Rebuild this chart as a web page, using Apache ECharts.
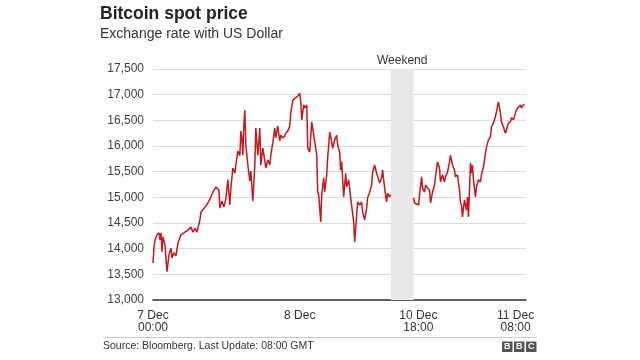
<!DOCTYPE html>
<html>
<head>
<meta charset="utf-8">
<script src="https://cdn.jsdelivr.net/npm/echarts@6/dist/echarts.min.js"></script>
<style>html,body{margin:0;padding:0;background:#fff}#c{width:640px;height:360px}</style>
</head>
<body>
<div id="c"></div>
<script>
// Chart-clock hours from 7 Dec 00:00 (weekend compressed)
const hours = [0.0,0.16,0.33,0.65,0.98,1.14,1.31,1.47,1.63,1.96,2.29,2.61,2.94,3.10,3.43,3.76,4.08,4.57,5.22,5.71,6.20,6.53,6.86,7.18,7.67,7.84,8.49,8.98,9.47,9.80,10.29,10.78,10.94,11.27,11.59,11.92,12.24,
12.57,12.73,13.06,13.39,13.55,13.88,14.20,14.37,14.53,14.69,14.86,15.02,15.18,15.51,15.84,16.00,16.33,16.65,16.82,17.14,17.47,17.63,17.96,18.29,18.45,18.78,19.10,19.27,19.59,19.92,20.08,20.41,20.73,20.90,21.22,21.55,21.71,22.04,22.37,22.53,22.86,23.18,23.35,23.67,24.00,24.16,24.33,24.65,24.82,25.14,
25.31,25.63,25.96,26.45,26.78,26.94,27.10,27.43,27.59,27.92,28.08,28.41,28.57,28.90,29.22,29.39,29.71,30.04,30.20,30.53,30.69,30.86,31.18,31.51,31.67,32.00,32.33,32.49,32.82,32.98,33.31,33.47,33.80,34.12,34.29,34.61,34.94,35.10,35.43,35.76,35.92,36.24,36.57,36.73,37.06,37.39,37.55,37.88,38.20,38.37,38.69,38.86,
40.70,
42.61,42.78,43.10,43.43,43.59,43.92,44.08,44.41,44.57,44.90,45.22,45.39,45.71,46.04,46.20,46.53,46.86,47.02,47.35,47.67,47.84,48.16,48.49,48.65,48.98,49.31,49.47,49.80,50.12,50.29,50.45,50.61,50.94,51.27,51.43,51.59,51.92,52.08,52.24,52.41,52.73,52.90,53.22,53.55,53.71,54.04,54.37,54.53,54.86,55.18,55.35,55.67,56.00,56.16,56.49,56.82,56.98,57.31,57.63,57.80,58.12,58.45,58.61,58.94,59.27,59.43,59.76,60.08,60.24,60.57,60.73];

const prices = [13720,14030,14170,14270,14310,14170,14310,13940,14230,14070,13550,13880,14010,13820,13920,13860,14110,14270,14320,14360,14420,14320,14400,14320,14560,14710,14810,14890,15010,15100,15200,15140,14790,14930,14810,14970,15340,
14850,15180,15570,15470,15630,15900,15810,16290,16160,15820,16410,16700,16020,15630,15320,15510,14930,15630,16350,15820,16350,15630,15960,15710,15570,15730,15630,15820,16060,16350,16160,16390,16100,16210,16160,16190,16250,16290,16390,16640,16880,16930,16900,16970,17030,16880,16510,16800,16740,16800,
15960,15880,16470,16080,15820,15100,15050,14520,15050,15380,15100,15440,15770,16270,16080,15960,16120,16210,16020,15880,15530,15690,15010,15470,15200,15340,14990,15010,14520,14130,14660,14910,14850,14910,14710,14560,14790,14990,15100,15240,15490,15630,15470,15440,15280,15380,15530,15180,14910,15080,15010,15050,
null,
14990,14890,14910,14850,15050,15400,15180,15100,15240,15180,15140,14890,15100,15240,15400,15690,15570,15300,15440,15300,15400,15490,15690,15820,15630,15530,15400,15440,15140,14890,14850,14620,14950,14750,15010,14620,15670,15470,15630,15340,15010,15200,15340,15300,15440,15590,15860,15980,16120,16180,16370,16450,16570,16600,16860,16640,16470,16370,16250,16310,16450,16470,16550,16510,16640,16700,16760,16800,16740,16800,16820];

const xTickValues = [0, 24, 43.4, 59.3];
const xTickLabels = ['7 Dec\n00:00', '8 Dec', '10 Dec\n18:00', '11 Dec\n08:00'];
const weekend = [38.9, 42.6];
const yMin = 13000, yMax = 17500, yStep = 500;

const FONT = '"Liberation Sans", Arial, Helvetica, sans-serif';
const series = hours.map((h, i) => [h, prices[i] === null ? '-' : prices[i]]);

const chart = echarts.init(document.getElementById('c'), null, {renderer: 'canvas'});
chart.setOption({
  animation: false,
  backgroundColor: '#fff',
  textStyle: {fontFamily: FONT},
  grid: {left: 153, right: 114, top: 69, bottom: 60},
  xAxis: {
    type: 'value', min: 0, max: 61,
    axisLine: {show: true, onZero: false, lineStyle: {color: '#333', width: 1.5}},
    axisTick: {show: false},
    splitLine: {show: false},
    axisLabel: {
      customValues: xTickValues,
      color: '#333', fontSize: 12, fontFamily: FONT, lineHeight: 12.5, margin: 9,
      formatter: v => { const i = xTickValues.indexOf(v); return i >= 0 ? xTickLabels[i] : ''; }
    }
  },
  yAxis: {
    type: 'value', min: yMin, max: yMax, interval: yStep,
    axisLine: {show: false}, axisTick: {show: false},
    splitLine: {show: true, lineStyle: {color: '#dcdcdc', width: 1}},
    axisLabel: {
      color: '#404040', fontSize: 12, fontFamily: FONT, margin: 9,
      formatter: v => v.toLocaleString('en-US')
    }
  },
  series: [{
    type: 'line', data: series, showSymbol: false, symbol: 'none', connectNulls: false,
    lineStyle: {color: '#c8161d', width: 1.5},
    z: 3,
    markArea: {
      silent: true,
      itemStyle: {color: '#e8e8e8'},
      label: {show: true, position: 'top', distance: 2, color: '#333', fontSize: 12, fontFamily: FONT},
      data: [[{name: 'Weekend', xAxis: weekend[0]}, {xAxis: weekend[1]}]]
    }
  }],
  graphic: [
    {type: 'text', left: 100, top: 5, style: {text: 'Bitcoin spot price', font: 'bold 17.5px ' + FONT, fill: '#222'}},
    {type: 'text', left: 100, top: 27, style: {text: 'Exchange rate with US Dollar', font: '14px ' + FONT, fill: '#333'}},
    {type: 'line', shape: {x1: 103, y1: 337.5, x2: 537, y2: 337.5}, style: {stroke: '#c8c8c8', lineWidth: 1}},
    {type: 'text', left: 103, top: 341, style: {text: 'Source: Bloomberg. Last Update: 08:00 GMT', font: '10.5px ' + FONT, fill: '#333'}},
    {type: 'rect', shape: {x: 502, y: 341.5, width: 10.5, height: 10.5}, style: {fill: '#555'}},
    {type: 'rect', shape: {x: 514, y: 341.5, width: 10.5, height: 10.5}, style: {fill: '#555'}},
    {type: 'rect', shape: {x: 526, y: 341.5, width: 10.5, height: 10.5}, style: {fill: '#555'}},
    {type: 'text', x: 507.25, y: 347, style: {text: 'B', font: 'bold 9px ' + FONT, fill: '#fff', align: 'center', verticalAlign: 'middle'}},
    {type: 'text', x: 519.25, y: 347, style: {text: 'B', font: 'bold 9px ' + FONT, fill: '#fff', align: 'center', verticalAlign: 'middle'}},
    {type: 'text', x: 531.25, y: 347, style: {text: 'C', font: 'bold 9px ' + FONT, fill: '#fff', align: 'center', verticalAlign: 'middle'}}
  ]
});
</script>
</body>
</html>
